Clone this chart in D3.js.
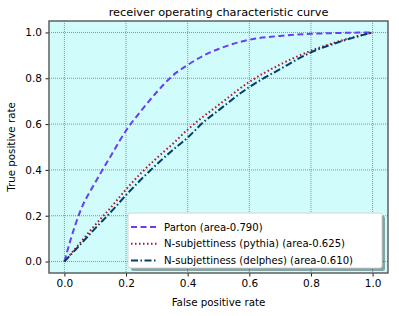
<!DOCTYPE html>
<html>
<head>
<meta charset="utf-8">
<script src="https://cdn.jsdelivr.net/npm/d3@7"></script>
<style>
  body { margin: 0; background: #fff; }
  svg text { font-family: "DejaVu Sans", sans-serif; fill: #000; }
</style>
</head>
<body>
<div id="chart"></div>
<script>
// data
let fpr = [0, 0.02, 0.05, 0.1, 0.15, 0.2, 0.25, 0.3, 0.35, 0.4, 0.45, 0.5, 0.6, 0.7, 0.8, 0.9, 1.0];
let tprParton = [0, 0.095, 0.215, 0.345, 0.46, 0.572, 0.66, 0.74, 0.81, 0.858, 0.898, 0.928, 0.968, 0.985, 0.994, 0.998, 1.0];
let tprPythia = [0, 0.032, 0.08, 0.16, 0.235, 0.315, 0.388, 0.452, 0.512, 0.576, 0.632, 0.683, 0.784, 0.86, 0.92, 0.965, 1.0];
let tprDelphes = [0, 0.029, 0.072, 0.145, 0.215, 0.29, 0.36, 0.425, 0.485, 0.541, 0.607, 0.66, 0.762, 0.84, 0.913, 0.962, 1.0];
let seriesNames = ["Parton (area-0.790)", "N-subjettiness (pythia) (area-0.625)", "N-subjettiness (delphes) (area-0.610)"];
let ticks = [0, 0.2, 0.4, 0.6, 0.8, 1.0];

let width = 399, height = 316,
    margin = {top: 21, right: 11, bottom: 43, left: 49};
let plotW = width - margin.left - margin.right,
    plotH = height - margin.top - margin.bottom;

let x = d3.scaleLinear().domain([-0.05, 1.05]).range([0, plotW]);
let y = d3.scaleLinear().domain([-0.05, 1.05]).range([plotH, 0]);

let svg = d3.select("#chart").append("svg")
    .attr("width", width)
    .attr("height", height);

let g = svg.append("g")
    .attr("transform", "translate(" + margin.left + "," + margin.top + ")");

// axes background
g.append("rect")
    .attr("width", plotW)
    .attr("height", plotH)
    .attr("fill", "#d0fcfc");

// grid
g.append("g").selectAll("line")
    .data(ticks).enter().append("line")
    .attr("x1", d => x(d)).attr("x2", d => x(d))
    .attr("y1", 0).attr("y2", plotH)
    .attr("stroke", "#2ca02c").attr("stroke-opacity", 0.75)
    .attr("stroke-width", 1).attr("stroke-dasharray", "1,1");
g.append("g").selectAll("line")
    .data(ticks).enter().append("line")
    .attr("y1", d => y(d)).attr("y2", d => y(d))
    .attr("x1", 0).attr("x2", plotW)
    .attr("stroke", "#2ca02c").attr("stroke-opacity", 0.75)
    .attr("stroke-width", 1).attr("stroke-dasharray", "1,1");

// curves
let line = d3.line()
    .x(d => x(d[0]))
    .y(d => y(d[1]))
    .curve(d3.curveMonotoneX);

let series = [
    {name: seriesNames[0], tpr: tprParton, color: "#6a3cf5", dash: "6,3.5", width: 2},
    {name: seriesNames[1], tpr: tprPythia, color: "#b01228", dash: "1.5,2.5", width: 2},
    {name: seriesNames[2], tpr: tprDelphes, color: "#023e6b", dash: "7,2.5,1.5,2.5", width: 2}
];

series.forEach(s => {
    g.append("path")
        .datum(fpr.map((f, i) => [f, s.tpr[i]]))
        .attr("fill", "none")
        .attr("stroke", s.color)
        .attr("stroke-width", s.width)
        .attr("stroke-dasharray", s.dash)
        .attr("d", line);
});

// axes
let xAxis = g.append("g")
    .attr("transform", "translate(0," + plotH + ")")
    .call(d3.axisBottom(x).tickValues(ticks).tickFormat(d3.format(".1f")).tickSize(3.5).tickPadding(3.5));
let yAxis = g.append("g")
    .call(d3.axisLeft(y).tickValues(ticks).tickFormat(d3.format(".1f")).tickSize(3.5).tickPadding(3.5));
[xAxis, yAxis].forEach(a => {
    a.select(".domain").remove();
    a.selectAll("text").attr("font-size", "10.5px").attr("font-family", "DejaVu Sans");
    a.selectAll("line").attr("stroke", "#000").attr("stroke-width", 0.9);
});

// frame
g.append("rect")
    .attr("width", plotW)
    .attr("height", plotH)
    .attr("fill", "none")
    .attr("stroke", "#555")
    .attr("stroke-width", 1.4);

// title and labels
svg.append("text")
    .attr("x", margin.left + plotW / 2).attr("y", 16)
    .attr("text-anchor", "middle")
    .attr("font-size", "11.3px")
    .text("receiver operating characteristic curve");
svg.append("text")
    .attr("x", margin.left + plotW / 2).attr("y", 306)
    .attr("text-anchor", "middle")
    .attr("font-size", "10.3px")
    .text("False positive rate");
svg.append("text")
    .attr("transform", "translate(15," + (margin.top + plotH / 2) + ") rotate(-90)")
    .attr("text-anchor", "middle")
    .attr("font-size", "10.3px")
    .text("True positive rate");

// legend
let lg = svg.append("g").attr("transform", "translate(128,213)");
let lgW = 254, lgH = 55;
lg.append("rect")
    .attr("x", 3).attr("y", 3)
    .attr("width", lgW).attr("height", lgH)
    .attr("rx", 2).attr("fill", "#000").attr("fill-opacity", 0.35);
lg.append("rect")
    .attr("width", lgW).attr("height", lgH)
    .attr("rx", 2).attr("fill", "#fff")
    .attr("stroke", "#ccc").attr("stroke-width", 0.8);

series.forEach((s, i) => {
    let cy = 14 + i * 16.7;
    lg.append("line")
        .attr("x1", 3).attr("x2", 30)
        .attr("y1", cy).attr("y2", cy)
        .attr("stroke", s.color)
        .attr("stroke-width", s.width)
        .attr("stroke-dasharray", s.dash);
    lg.append("text")
        .attr("x", 36).attr("y", cy)
        .attr("dy", "0.35em")
        .attr("font-size", "10.1px")
        .text(s.name);
});
</script>
</body>
</html>
